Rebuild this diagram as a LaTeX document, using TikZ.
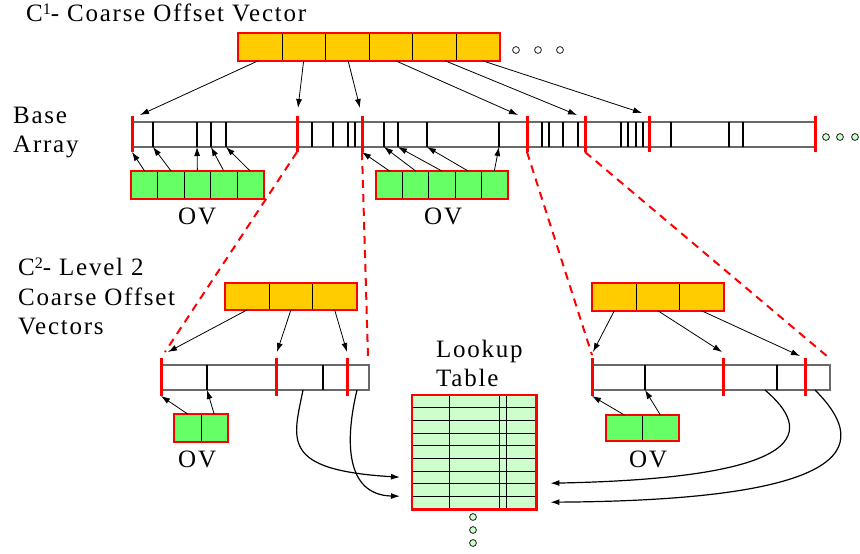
\documentclass[tikz,border=0pt]{standalone}
\usepackage{fontspec}
\setmainfont{Liberation Serif}[LetterSpace=7]
\usetikzlibrary{arrows.meta}

\definecolor{cvorange}{RGB}{255,204,0}
\definecolor{ovgreen}{RGB}{102,255,102}
\definecolor{lutgreen}{RGB}{204,255,204}
\definecolor{arraygray}{RGB}{105,105,105}

\newcommand{\supnum}[1]{\raisebox{6.5pt}{\fontsize{16}{16}\selectfont #1}}

\tikzset{
  cvcell/.style={draw=black, line width=0.8pt, fill=cvorange, inner sep=0pt, anchor=north west},
  ovcell/.style={draw=black, line width=0.8pt, fill=ovgreen, inner sep=0pt, anchor=north west},
  redframe/.style={draw=red, line width=2.6pt},
  redbar/.style={draw=red, line width=3pt},
  reddash/.style={draw=red, line width=2pt, dash pattern=on 8pt off 6pt},
  arrline/.style={draw=arraygray, line width=1.1pt},
  tick/.style={draw=black, line width=1.1pt},
  conn/.style={draw=black, line width=0.8pt},
  curvearr/.style={draw=black, line width=1.2pt},
  lbl/.style={anchor=base west, inner sep=0pt},
  dotc/.style={draw=black, line width=0.7pt}
}

\begin{document}
\begin{tikzpicture}[x=1pt, y=-1pt, >={Latex[length=9pt,width=6pt]}, font=\fontsize{25}{29}\selectfont]
\useasboundingbox (0,0) rectangle (860,554);

% labels
\node[lbl] (c1lbl) at (26,21) {C\supnum{1}- Coarse Offset Vector};
\node[lbl] (baselbl) at (13,123) {Base};
\node[lbl] (arraylbl) at (13,152) {Array};
\node[lbl] (c2lbl) at (18,275) {C\supnum{2}- Level 2};
\node[lbl] (c2lblb) at (18,305) {Coarse Offset};
\node[lbl] (c2lblc) at (18,334) {Vectors};
\node[lbl] (lookuplbl) at (436,357) {Lookup};
\node[lbl] (tablelbl) at (436,386) {Table};

% C1 vector
\foreach \i in {1,...,6}
  \node[cvcell, minimum width=43.5pt, minimum height=27pt] (cv1-\i) at (238+43.5*\i-43.5,33) {};
\draw[redframe] (cv1-1.north west) rectangle (cv1-6.south east);
\foreach \x in {516,538,560}
  \draw[dotc, fill=white] (\x,50) circle (3.4);

% base array
\draw[arrline] (132,122) -- (815,122) (132,147) -- (815,147);
\foreach \x [count=\i] in {153,197,211,226,312,333,348,355,384,398,427,499,542,549,563,578,621,628,636,643,671,729,743}
  \draw[tick] (\x,122) -- (\x,147) coordinate (bt\i);
\foreach \x [count=\i] in {132,297,362,527,585,649,815}
  \draw[redbar] (\x,116) coordinate (brt\i) -- (\x,152) coordinate (brb\i);
\foreach \x in {826,840,855}
  \draw[dotc, fill=lutgreen] (\x,137) circle (3.4);

\foreach \i/\sx/\dx/\dy in {1/-2/8/-1, 2/0/1/-8, 3/1/-2/-8, 4/5/-9/-1, 5/11/-8/-1, 6/5/-7/-3}
  \draw[->, conn] ([xshift=\sx pt]cv1-\i.south) -- ([shift={(\dx,\dy)}]brt\i);

% offset vectors of the base array
\foreach \i in {1,...,5}
  \node[ovcell, minimum width=26.4pt, minimum height=27pt] (ov1-\i) at (131+26.4*\i-26.4,171) {};
\draw[redframe] (ov1-1.north west) rectangle (ov1-5.south east);
\foreach \i in {1,...,5}
  \node[ovcell, minimum width=26.2pt, minimum height=27pt] (ov2-\i) at (376+26.2*\i-26.2,171) {};
\draw[redframe] (ov2-1.north west) rectangle (ov2-5.south east);
\node[lbl] (ov1lbl) at (178,224) {OV};
\node[lbl] (ov2lbl) at (424,224) {OV};

\draw[->, conn] (ov1-1.north) -- (brb1);
\foreach \i/\t in {2/1, 3/2, 4/3, 5/4}
  \draw[->, conn] (ov1-\i.north) -- (bt\t);
\draw[->, conn] (ov2-1.north) -- (brb3);
\foreach \i/\t in {2/9, 3/10, 4/11, 5/12}
  \draw[->, conn] (ov2-\i.north) -- (bt\t);

% level 2, left
\draw[arrline] (161,365) rectangle (369,390);
\coordinate (lend) at (369,365);
\foreach \x [count=\i] in {207,323}
  \draw[tick] (\x,365) -- (\x,390) coordinate (lt\i);
\foreach \x [count=\i] in {161,276,347}
  \draw[redbar] (\x,358) coordinate (lrt\i) -- (\x,396) coordinate (lrb\i);
\foreach \i in {1,2,3}
  \node[cvcell, minimum width=43.7pt, minimum height=26pt] (cvl-\i) at (225+43.7*\i-43.7,283) {};
\draw[redframe] (cvl-1.north west) rectangle (cvl-3.south east);
\foreach \i/\dx/\dy in {1/7/-6, 2/1/-6, 3/0/-6}
  \draw[->, conn] (cvl-\i.south) -- ([shift={(\dx,\dy)}]lrt\i);
\foreach \i in {1,2}
  \node[ovcell, minimum width=26.5pt, minimum height=27pt] (ovl-\i) at (174+26.5*\i-26.5,414) {};
\draw[redframe] (ovl-1.north west) rectangle (ovl-2.south east);
\node[lbl] (ovllbl) at (178,467) {OV};
\draw[->, conn] (ovl-1.north) -- (lrb1);
\draw[->, conn] (ovl-2.north) -- (lt1);

% level 2, right
\draw[arrline] (592,365) rectangle (830,390);
\coordinate (rend) at (830,365);
\foreach \x [count=\i] in {645,777}
  \draw[tick] (\x,365) -- (\x,390) coordinate (rt\i);
\foreach \x [count=\i] in {592,723,805}
  \draw[redbar] (\x,358) coordinate (rrt\i) -- (\x,396) coordinate (rrb\i);
\foreach \i in {1,2,3}
  \node[cvcell, minimum width=43.7pt, minimum height=27pt] (cvr-\i) at (592+43.7*\i-43.7,283) {};
\draw[redframe] (cvr-1.north west) rectangle (cvr-3.south east);
\foreach \i/\dx/\dy in {1/1/-6, 2/-1/-6, 3/-5/-2}
  \draw[->, conn] (cvr-\i.south) -- ([shift={(\dx,\dy)}]rrt\i);
\foreach \i in {1,2}
  \node[ovcell, minimum width=36pt, minimum height=25pt] (ovr-\i) at (606+36*\i-36,415) {};
\draw[redframe] (ovr-1.north west) rectangle (ovr-2.south east);
\node[lbl] (ovrlbl) at (629,467) {OV};
\draw[->, conn] (ovr-1.north) -- (rrb1);
\draw[->, conn] (ovr-2.north) -- (rt1);

% zoom lines
\draw[reddash] (brb2) -- ([shift={(4,-6)}]lrt1);
\draw[reddash] (brb3) -- ([shift={(-1,-8)}]lend);
\draw[reddash] (brb4) -- ([shift={(0,-3)}]rrt1);
\draw[reddash] (brb5) -- ([shift={(-2,-8)}]rend);

% lookup table
\node[fill=lutgreen, inner sep=0pt, minimum width=124pt, minimum height=114pt, anchor=north west] (lut) at (412,395) {};
\foreach \k in {1,...,8}
  \draw[tick, line width=0.9pt] (412,395+12.67*\k) -- (536,395+12.67*\k);
\foreach \x in {449,499,506}
  \draw[tick, line width=0.9pt] (\x,395) -- (\x,509);
\draw[redframe] (lut.north west) rectangle (lut.south east);
\foreach \y in {517,530,543}
  \draw[dotc, fill=lutgreen] (473,\y) circle (3.4);

% curved arrows into the table
\coordinate (lcs1) at (303,390);
\coordinate (lcs2) at (357,390);
\coordinate (rcs1) at (765,390);
\coordinate (rcs2) at (815,390);
\draw[->, curvearr] (lcs1) .. controls (293,440) and (280,470) .. ([shift={(-12,25)}]lut.west);
\draw[->, curvearr] (lcs2) .. controls (345,440) and (345,495) .. ([shift={(-12,44)}]lut.west);
\draw[->, curvearr] (rcs1) .. controls (812,430) and (815,478) .. ([shift={(14,31)}]lut.east);
\draw[->, curvearr] (rcs2) .. controls (865,440) and (872,500) .. ([shift={(14,50)}]lut.east);
\end{tikzpicture}
\end{document}
